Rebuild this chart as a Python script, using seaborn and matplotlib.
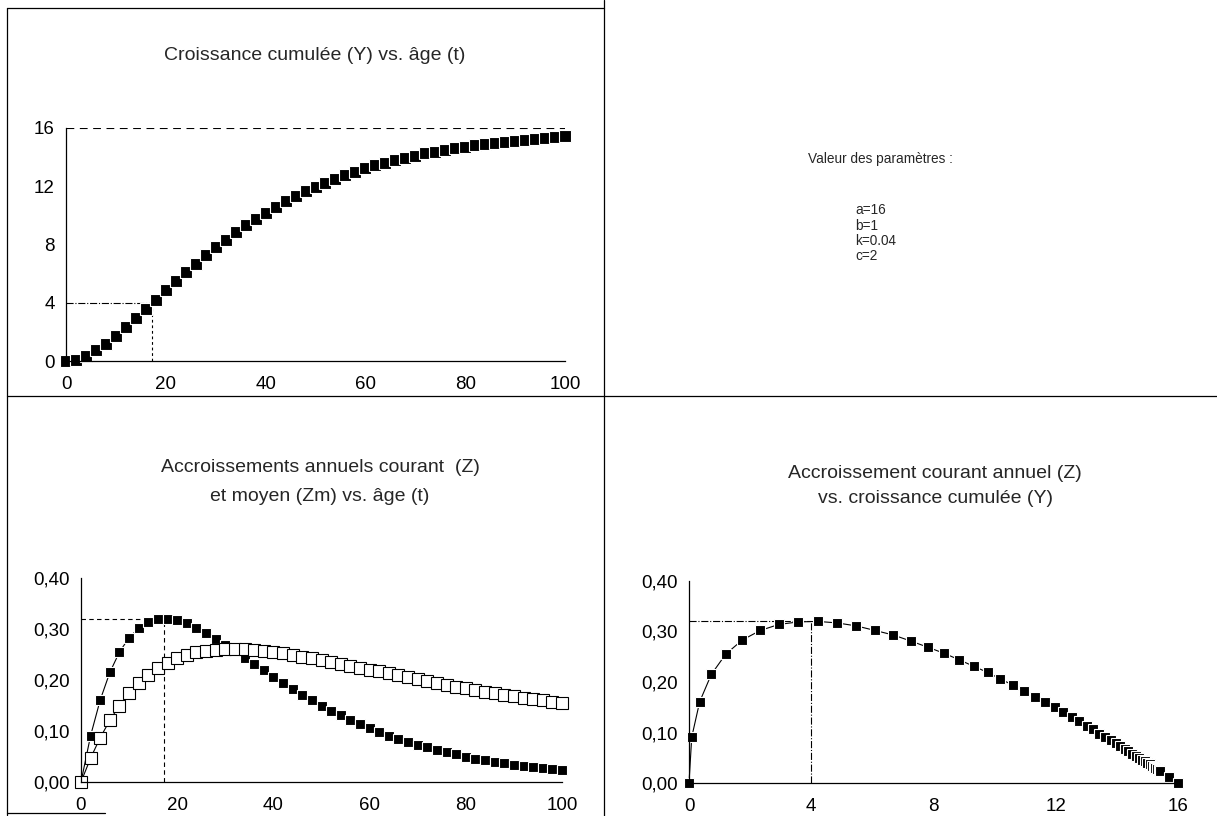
import matplotlib
matplotlib.use("Agg")
import matplotlib.pyplot as plt
import seaborn as sns
from matplotlib.lines import Line2D

# ---- data ----
age = [0, 2, 4, 6, 8, 10, 12, 14, 16, 18, 20, 22, 24, 26, 28, 30, 32, 34, 36, 38,
       40, 42, 44, 46, 48, 50, 52, 54, 56, 58, 60, 62, 64, 66, 68, 70, 72, 74, 76, 78,
       80, 82, 84, 86, 88, 90, 92, 94, 96, 98, 100]

croissance = [0.00, 0.09, 0.35, 0.73, 1.20, 1.74, 2.33, 2.94, 3.58, 4.21,
              4.85, 5.48, 6.09, 6.69, 7.26, 7.81, 8.34, 8.84, 9.32, 9.77,
              10.19, 10.59, 10.97, 11.32, 11.65, 11.96, 12.25, 12.52, 12.77, 13.01,
              13.23, 13.43, 13.62, 13.80, 13.96, 14.11, 14.25, 14.38, 14.51, 14.62,
              14.72, 14.82, 14.91, 14.99, 15.07, 15.14, 15.20, 15.26, 15.32, 15.37, 15.42]

acc_courant = [0.000, 0.091, 0.161, 0.215, 0.255, 0.283, 0.302, 0.314, 0.319, 0.320,
               0.317, 0.311, 0.302, 0.293, 0.281, 0.269, 0.257, 0.244, 0.231, 0.219,
               0.206, 0.194, 0.182, 0.171, 0.160, 0.150, 0.140, 0.131, 0.122, 0.113,
               0.106, 0.098, 0.091, 0.085, 0.079, 0.073, 0.068, 0.063, 0.058, 0.054,
               0.050, 0.046, 0.043, 0.040, 0.037, 0.034, 0.032, 0.029, 0.027, 0.025, 0.023]

acc_moyen = [0.000, 0.047, 0.087, 0.121, 0.150, 0.174, 0.194, 0.210, 0.224, 0.234,
             0.243, 0.249, 0.254, 0.257, 0.259, 0.260, 0.261, 0.260, 0.259, 0.257,
             0.255, 0.252, 0.249, 0.246, 0.243, 0.239, 0.236, 0.232, 0.228, 0.224,
             0.220, 0.217, 0.213, 0.209, 0.205, 0.202, 0.198, 0.194, 0.191, 0.187,
             0.184, 0.181, 0.177, 0.174, 0.171, 0.168, 0.165, 0.162, 0.160, 0.157, 0.154]

# two extra points at the end of the Z vs Y curve
croissance_fin = [15.70, 16.00]
courant_fin = [0.012, 0.000]

# reference values (dashed guides)
asymptote = 16
age_inflexion = 17.3
y_inflexion = 4
z_max = 0.32

params = ["a=16", "b=1", "k=0.04", "c=2"]

sns.set_style("white")
plt.rcParams["font.family"] = ["Liberation Sans", "DejaVu Sans"]

W, H = 1217, 816
fig = plt.figure(figsize=(W / 100, H / 100), dpi=100)
title_size = 14
tick_size = 13.5


def new_axes(x0, x1, ybot, ytop):
    # pixel box -> figure fraction
    return fig.add_axes([x0 / W, 1 - ybot / H, (x1 - x0) / W, (ybot - ytop) / H])


def style(ax):
    sns.despine(ax=ax)
    for s in ["left", "bottom"]:
        ax.spines[s].set_linewidth(0.9)
        ax.spines[s].set_color("black")
    ax.tick_params(direction="inout", length=6, width=0.9, colors="black",
                   labelsize=tick_size)
    ax.tick_params(axis="x", pad=8)
    ax.tick_params(axis="y", pad=5)
    ax.set_xlabel("")
    ax.set_ylabel("")


def fig_line(x0, y0, x1, y1, **kw):
    fig.add_artist(Line2D([x0 / W, x1 / W], [1 - y0 / H, 1 - y1 / H],
                          transform=fig.transFigure, color="black", lw=0.9, **kw))


mk = dict(marker="s", color="black", linewidth=0.8, estimator=None, sort=False,
          clip_on=False, markeredgewidth=0.8)

# ---- top left: Y vs t ----
ax1 = new_axes(66, 565, 361, 128)
ax1.plot([0, 100], [asymptote, asymptote], color="black", lw=0.8, ls=(0, (7, 5)))
ax1.plot([0, age_inflexion], [y_inflexion, y_inflexion], color="black", lw=0.8, ls="-.")
ax1.plot([age_inflexion, age_inflexion], [0, y_inflexion], color="black", lw=0.8, ls=(0, (2.5, 2.5)))
sns.lineplot(x=age, y=croissance, markersize=8.5, ax=ax1, **mk)
ax1.set_xlim(0, 100)
ax1.set_ylim(0, 16)
ax1.set_xticks([0, 20, 40, 60, 80, 100])
ax1.set_yticks([0, 4, 8, 12, 16])
style(ax1)
fig.text(315 / W, 1 - 55 / H, "Croissance cumulée (Y) vs. âge (t)", ha="center",
         va="center", fontsize=title_size)

# ---- parameters text ----
fig.text(880 / W, 1 - 159 / H, "Valeur des paramètres :", ha="center", va="center",
         fontsize=9.8)
for i, p in enumerate(params):
    fig.text(855 / W, 1 - (210 + 15.5 * i) / H, p, ha="left", va="center", fontsize=9.8)

zticks = [0, 0.1, 0.2, 0.3, 0.4]
zlabels = ["0,00", "0,10", "0,20", "0,30", "0,40"]

# ---- bottom left: Z and Zm vs t ----
ax2 = new_axes(81, 562, 782, 578)
ax2.plot([0, age_inflexion], [z_max, z_max], color="black", lw=0.8, ls=(0, (4, 3)))
ax2.plot([age_inflexion, age_inflexion], [0, z_max], color="black", lw=0.8, ls=(0, (4, 3)))
sns.lineplot(x=age, y=acc_courant, markersize=7.5, ax=ax2, **mk)
sns.lineplot(x=age, y=acc_moyen, markersize=8, markerfacecolor="white",
             markeredgecolor="black", ax=ax2, **mk)
ax2.set_xlim(0, 100)
ax2.set_ylim(0, 0.4)
ax2.set_xticks([0, 20, 40, 60, 80, 100])
ax2.set_yticks(zticks)
ax2.set_yticklabels(zlabels)
style(ax2)
fig.text(320 / W, 1 - 467 / H, "Accroissements annuels courant  (Z)", ha="center",
         va="center", fontsize=title_size)
fig.text(320 / W, 1 - 497 / H, "et moyen (Zm) vs. âge (t)", ha="center",
         va="center", fontsize=title_size)

# ---- bottom right: Z vs Y ----
ax3 = new_axes(689, 1178, 783, 581)
ax3.plot([0, y_inflexion], [z_max, z_max], color="black", lw=0.8, ls="-.")
ax3.plot([y_inflexion, y_inflexion], [0, z_max], color="black", lw=0.8, ls="-.")
sns.lineplot(x=croissance + croissance_fin, y=acc_courant + courant_fin,
             markersize=7.5, ax=ax3, **mk)
ax3.set_xlim(0, 16)
ax3.set_ylim(0, 0.4)
ax3.set_xticks([0, 4, 8, 12, 16])
ax3.set_yticks(zticks)
ax3.set_yticklabels(zlabels)
style(ax3)
fig.text(935 / W, 1 - 473 / H, "Accroissement courant annuel (Z)", ha="center",
         va="center", fontsize=title_size)
fig.text(935 / W, 1 - 498 / H, "vs. croissance cumulée (Y)", ha="center",
         va="center", fontsize=title_size)

# ---- panel frames ----
fig_line(7, 8, 604, 8)
fig_line(7, 8, 7, 815)
fig_line(604, 0, 604, 816)
fig_line(7, 396, 1217, 396)
fig_line(7, 813, 105, 813)

fig.savefig("out.png", dpi=100, facecolor="white")
